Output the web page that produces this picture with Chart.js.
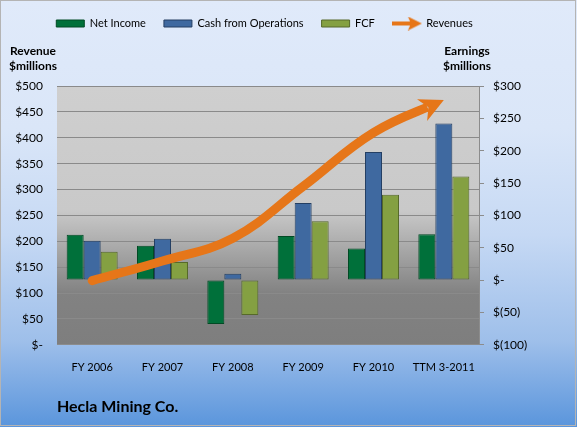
<!DOCTYPE html>
<html>
<head>
<meta charset="utf-8">
<script src="https://cdn.jsdelivr.net/npm/chart.js@4.4.1/dist/chart.umd.min.js"></script>
<style>
  html, body { margin: 0; padding: 0; background: #fff; }
</style>
</head>
<body>
<canvas id="heclaChart" width="577" height="427"></canvas>
<script>
let categories = ["FY 2006", "FY 2007", "FY 2008", "FY 2009", "FY 2010", "TTM 3-2011"]
let netIncome = [70, 53, -68, 68, 49, 71]
let cashFromOps = [61, 64, 10, 119, 198, 242]
let fcf = [44, 28, -54, 91, 132, 160]
let revenues = [124, 162, 206, 306, 410, 473]
let revenueTickLabels = ["$-", "$50", "$100", "$150", "$200", "$250", "$300", "$350", "$400", "$450", "$500"]
let earningsTickLabels = ["$(100)", "$(50)", "$-", "$50", "$100", "$150", "$200", "$250", "$300"]

let orange = "#e67619"
let font = "Lato, 'Liberation Sans', sans-serif"

// little arrow for the Revenues legend entry
function arrowIcon() {
    let c = document.createElement("canvas")
    c.width = 30
    c.height = 14
    let g = c.getContext("2d")
    g.fillStyle = orange
    g.fillRect(0, 5, 19, 4)
    g.beginPath()
    g.moveTo(30, 7)
    g.lineTo(16, 0)
    g.lineTo(19, 7)
    g.lineTo(16, 14)
    g.closePath()
    g.fill()
    return c
}

// head of the revenue arrow, taken from the last point of the line
function arrowGeometry(chart) {
    let pts = chart.getDatasetMeta(3).data
    let p = pts[pts.length - 1]
    let ang = Math.atan2(p.y - p.cp1y, p.x - p.cp1x)
    let dx = Math.cos(ang), dy = Math.sin(ang)
    let nx = -dy, ny = dx
    let len = 24, half = 12, notch = 7
    let bx = p.x - dx * len, by = p.y - dy * len
    return { p, dx, dy, nx, ny, bx, by, half, notch }
}

let chartDecor = {
    id: "chartDecor",
    beforeInit(chart) {
        let fit = chart.legend.fit
        chart.legend.fit = function () {
            // leave room under the legend for the axis titles
            fit.call(this)
            this.height = 86
        }
    },
    beforeDraw(chart) {
        let ctx = chart.ctx
        let w = chart.width, h = chart.height
        let bg = ctx.createLinearGradient(0, 0, 0, h)
        bg.addColorStop(0, "#e0eafa")
        bg.addColorStop(0.3, "#dae6f8")
        bg.addColorStop(0.55, "#c6d9f4")
        bg.addColorStop(0.8, "#9ebfea")
        bg.addColorStop(1, "#5a95dc")
        ctx.save()
        ctx.fillStyle = bg
        ctx.fillRect(0, 0, w, h)
        ctx.strokeStyle = "#b4b4b4"
        ctx.lineWidth = 1
        ctx.strokeRect(0.5, 0.5, w - 2, h - 2)

        let a = chart.chartArea
        let pg = ctx.createLinearGradient(0, a.top, 0, a.bottom)
        pg.addColorStop(0, "#cfcfcf")
        pg.addColorStop(0.48, "#c9c9c9")
        pg.addColorStop(0.8, "#828282")
        pg.addColorStop(1, "#7e7e7e")
        ctx.fillStyle = pg
        ctx.fillRect(a.left, a.top, a.right - a.left, a.bottom - a.top)
        ctx.restore()
    },
    beforeDatasetDraw(chart, args) {
        if (args.index !== 3) return
        let g = arrowGeometry(chart)
        let ctx = chart.ctx
        // hide the line beyond the notch of the arrow head
        let cx = g.bx + g.dx * 6, cy = g.by + g.dy * 6
        ctx.save()
        ctx.beginPath()
        ctx.rect(0, 0, chart.width, chart.height)
        ctx.moveTo(cx + g.nx * 200, cy + g.ny * 200)
        ctx.lineTo(cx + g.nx * 200 + g.dx * 200, cy + g.ny * 200 + g.dy * 200)
        ctx.lineTo(cx - g.nx * 200 + g.dx * 200, cy - g.ny * 200 + g.dy * 200)
        ctx.lineTo(cx - g.nx * 200, cy - g.ny * 200)
        ctx.closePath()
        ctx.clip("evenodd")
    },
    afterDatasetDraw(chart, args) {
        if (args.index !== 3) return
        let ctx = chart.ctx
        ctx.restore()
        let g = arrowGeometry(chart)
        ctx.save()
        ctx.fillStyle = orange
        ctx.beginPath()
        ctx.moveTo(g.p.x, g.p.y)
        ctx.lineTo(g.bx + g.nx * g.half, g.by + g.ny * g.half)
        ctx.lineTo(g.bx + g.dx * g.notch, g.by + g.dy * g.notch)
        ctx.lineTo(g.bx - g.nx * g.half, g.by - g.ny * g.half)
        ctx.closePath()
        ctx.fill()
        ctx.restore()
    },
    afterDraw(chart) {
        let ctx = chart.ctx
        let yl = chart.scales.y, yr = chart.scales.y1
        ctx.save()
        ctx.font = "bold 12px " + font
        ctx.fillStyle = "#000"
        ctx.textAlign = "center"
        ctx.textBaseline = "middle"
        ctx.fillText("Revenue", yl.left + 33, 51)
        ctx.fillText("$millions", yl.left + 33, 66)
        ctx.fillText("Earnings", yr.left - 12, 51)
        ctx.fillText("$millions", yr.left - 12, 66)
        ctx.restore()
    },
}

let canvasElement = document.getElementById("heclaChart")

let config = {
    type: "bar",
    data: {
        labels: categories,
        datasets: [
            {
                label: "Net Income",
                data: netIncome,
                yAxisID: "y1",
                backgroundColor: "#00703a",
                borderColor: "#014a24",
                borderWidth: 1,
                borderSkipped: false,
                pointStyle: "rect",
                order: 1,
            },
            {
                label: "Cash from Operations",
                data: cashFromOps,
                yAxisID: "y1",
                backgroundColor: "#3f69a0",
                borderColor: "#243f63",
                borderWidth: 1,
                borderSkipped: false,
                pointStyle: "rect",
                order: 1,
            },
            {
                label: "FCF",
                data: fcf,
                yAxisID: "y1",
                backgroundColor: "#84a042",
                borderColor: "#56692a",
                borderWidth: 1,
                borderSkipped: false,
                pointStyle: "rect",
                order: 1,
            },
            {
                type: "line",
                label: "Revenues",
                data: revenues,
                yAxisID: "y",
                borderColor: orange,
                backgroundColor: orange,
                borderWidth: 9,
                borderCapStyle: "round",
                tension: 0.4,
                pointRadius: 0,
                pointHoverRadius: 0,
                pointStyle: arrowIcon(),
                fill: false,
                order: 0,
            },
        ],
    },
    options: {
        responsive: false,
        animation: false,
        devicePixelRatio: 1,
        // right padding pulls the legend's centre left, like the original
        layout: { padding: { left: 0, top: 0, bottom: 0, right: 48 } },
        categoryPercentage: 0.725,
        barPercentage: 1.0,
        plugins: {
            legend: {
                position: "top",
                labels: {
                    usePointStyle: true,
                    pointStyleWidth: 28,
                    boxHeight: 7,
                    padding: 18,
                    color: "#000",
                    font: { family: font, size: 11 },
                    sort: (a, b) => a.datasetIndex - b.datasetIndex,
                },
            },
            title: {
                display: true,
                text: "Hecla Mining Co.",
                position: "bottom",
                align: "start",
                fullSize: false,
                color: "#000",
                font: { family: font, size: 16, weight: "bold" },
                padding: { top: 22, bottom: 11 },
            },
            tooltip: { enabled: false },
        },
        scales: {
            x: {
                grid: { display: false },
                border: { display: true, color: "#8c8c8c" },
                ticks: {
                    color: "#000",
                    font: { family: font, size: 11 },
                    padding: 8,
                    maxRotation: 0,
                    autoSkip: false,
                },
                afterFit: (s) => { s.height = 30 },
            },
            y: {
                position: "left",
                min: 0,
                max: 500,
                grid: { color: "#8a8a8a", drawTicks: false },
                border: { display: false },
                ticks: {
                    stepSize: 50,
                    padding: 14,
                    color: "#000",
                    font: { family: font, size: 12 },
                    callback: (v, i) => revenueTickLabels[i],
                },
                afterFit: (s) => { s.width = 57 },
            },
            y1: {
                position: "right",
                min: -100,
                max: 300,
                grid: { drawOnChartArea: false, tickLength: 5, color: "#8c8c8c" },
                border: { display: true, color: "#8c8c8c" },
                ticks: {
                    stepSize: 50,
                    padding: 9,
                    color: "#000",
                    font: { family: font, size: 12 },
                    callback: (v, i) => earningsTickLabels[i],
                },
                afterFit: (s) => { s.width = 50 },
            },
        },
    },
    plugins: [chartDecor],
}

let heclaChart = new Chart(canvasElement, config)
</script>
</body>
</html>
